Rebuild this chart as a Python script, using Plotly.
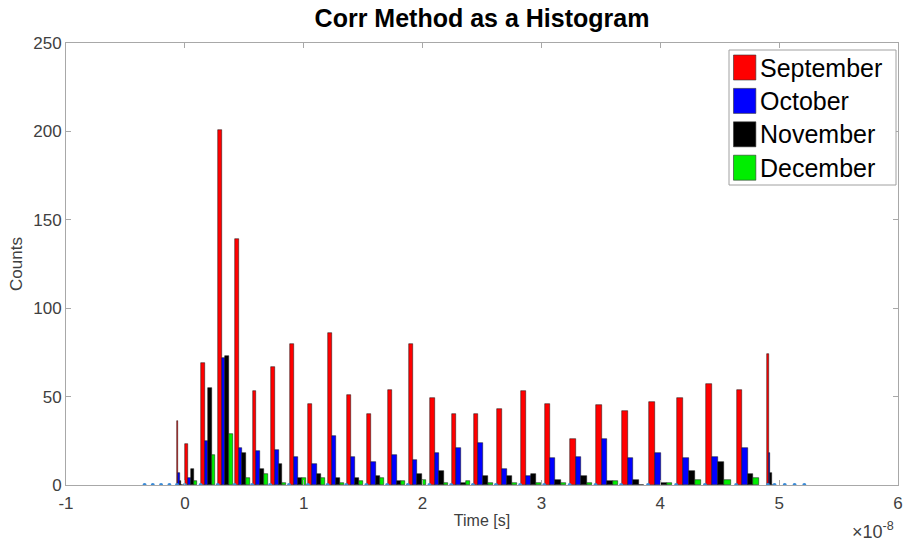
import plotly.graph_objects as go

# Histogram bin centres, in units of 1e-8 s
bin_centers = [-0.043, 0.053, 0.197, 0.341, 0.484, 0.634, 0.788, 0.948, 1.108, 1.273,
               1.432, 1.605, 1.781, 1.957, 2.140, 2.324, 2.510, 2.708, 2.913, 3.118,
               3.335, 3.553, 3.772, 4.003, 4.242, 4.487, 4.737, 4.926]

# Counts per bin for each month
september = [36, 23, 69, 201, 139, 53, 67, 80, 46, 86, 51, 40, 54, 80, 49, 40, 40, 43,
             53, 46, 26, 45, 42, 47, 49, 57, 54, 74]
october = [7, 4, 25, 72, 21, 19, 20, 16, 12, 28, 16, 13, 17, 14, 18, 21, 24, 9, 5, 15,
           16, 26, 15, 18, 15, 16, 21, 18]
november = [2, 9, 55, 73, 18, 9, 12, 4, 6, 4, 4, 5, 2, 6, 8, 1, 5, 5, 6, 3, 5, 2, 3, 1,
            8, 13, 6, 7]
december = [0, 2, 17, 29, 4, 6, 1, 4, 4, 1, 2, 4, 2, 3, 1, 2, 1, 1, 1, 1, 1, 2, 0, 1, 3,
            3, 4, 0]

# Zero-level sample times outside the occupied bins (units of 1e-8 s)
zero_left = [-0.339, -0.270, -0.200, -0.130, -0.066]
zero_right = [4.905, 4.961, 5.047, 5.130, 5.212]

months = ["September", "October", "November", "December"]
colors = ["#ff0000", "#0000ff", "#000000", "#00ee00"]
series = [september, october, november, december]

x_ticks = [-1, 0, 1, 2, 3, 4, 5, 6]
y_ticks = [0, 50, 100, 150, 200, 250]

# Local bin spacing -> bar widths (four bars fill most of a bin)
n = len(bin_centers)
spacing = []
for i in range(n):
    if 0 < i < n - 1:
        spacing.append((bin_centers[i + 1] - bin_centers[i - 1]) / 2)
    else:
        spacing.append(None)
EDGE_W = 0.012
widths = [0.21 * s if s is not None else EDGE_W for s in spacing]

fig = go.Figure()
for k, (name, col, vals) in enumerate(zip(months, colors, series)):
    fig.add_trace(go.Bar(
        x=bin_centers, y=vals, name=name,
        width=widths,
        offset=[(-2 + k) * w for w in widths],
        marker=dict(color=col, line=dict(color="rgba(20,20,20,0.85)", width=0.6)),
        showlegend=False,
    ))

# Baseline sample markers
zero_mid = [bin_centers[i] - 0.45 * spacing[i] for i in range(1, n - 1)]
zero_t = zero_left + zero_mid + zero_right
fig.add_trace(go.Scatter(
    x=zero_t, y=[0] * len(zero_t), mode="markers",
    marker=dict(color="#3a8ad6", size=4), showlegend=False,
))

# Plot-area geometry in pixels for the legend box
W, H = 909, 541
L, R, T, B = 66, 6, 43, 56
pw, ph = W - L - R, H - T - B


def px(xp):
    return (xp - L) / pw


def py(yp):
    return (H - B - yp) / ph


shapes = [dict(type="rect", xref="paper", yref="paper",
               x0=px(733), x1=px(901), y0=py(185), y1=py(50),
               line=dict(color="#a0a0a0", width=1), fillcolor="white", layer="above")]
annotations = []
for k, (name, col) in enumerate(zip(months, colors)):
    yc = 67.5 + k * 33.4
    shapes.append(dict(type="rect", xref="paper", yref="paper",
                       x0=px(737.5), x1=px(760), y0=py(yc + 12.5), y1=py(yc - 12.5),
                       line=dict(color="#333333", width=0.6), fillcolor=col, layer="above"))
    annotations.append(dict(xref="paper", yref="paper", x=px(762), y=py(yc),
                            xanchor="left", yanchor="middle", showarrow=False,
                            text=name, font=dict(family="Liberation Sans", size=25, color="#000000")))

annotations.append(dict(xref="paper", yref="paper", x=px(855), y=py(530),
                        xanchor="left", yanchor="middle", showarrow=False,
                        text="×10<sup>-8</sup>",
                        font=dict(family="Liberation Sans", size=18, color="#404040")))

axis_style = dict(showline=True, mirror="ticks", linecolor="#a8a8a8", linewidth=1,
                  ticks="inside", ticklen=5, tickcolor="#a8a8a8", showgrid=False,
                  zeroline=False,
                  tickfont=dict(family="Liberation Sans", size=17, color="#404040"))

fig.update_layout(
    width=W, height=H,
    margin=dict(l=L, r=R, t=T, b=B),
    paper_bgcolor="white", plot_bgcolor="white",
    barmode="overlay", bargap=0,
    title=dict(text="<b>Corr Method as a Histogram</b>", x=0.5, xref="paper",
               y=1 - 18 / H, yanchor="middle",
               font=dict(family="Liberation Sans", size=25, color="#000000")),
    xaxis=dict(range=[-1, 6], tickvals=x_ticks, ticktext=[str(t) for t in x_ticks],
               ticklabelstandoff=3,
               title=dict(text="Time [s]", standoff=2,
                          font=dict(family="Liberation Sans", size=16, color="#404040")),
               **axis_style),
    yaxis=dict(range=[0, 250], tickvals=y_ticks,
               title=dict(text="Counts", standoff=6,
                          font=dict(family="Liberation Sans", size=17, color="#404040")),
               **axis_style),
    shapes=shapes, annotations=annotations,
)

fig.write_html("out.html")
